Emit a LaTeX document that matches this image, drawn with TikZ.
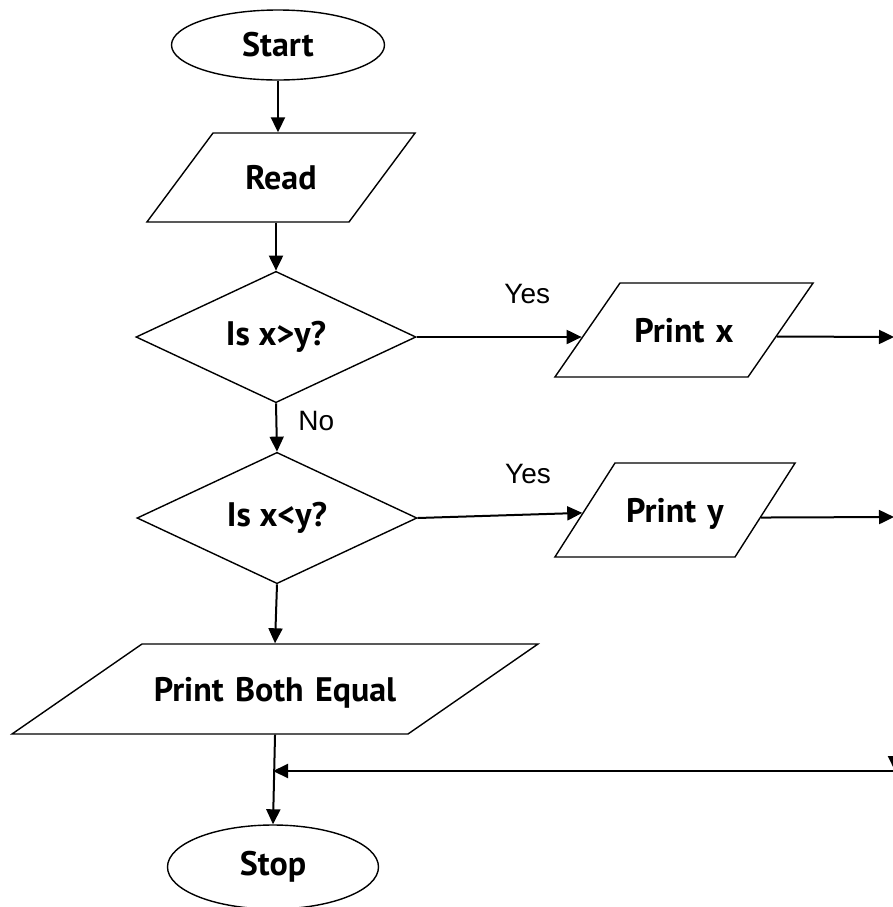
\documentclass[tikz,border=0pt]{standalone}
\usepackage{fontspec}
\setmainfont{Liberation Sans}
\newfontfamily\boxfont{PT Sans}
\usetikzlibrary{shapes.geometric,arrows.meta}

\begin{document}
\begin{tikzpicture}[x=0.5pt,y=-0.5pt,>={Triangle[length=7.5pt,width=7pt]},
    box font/.style={font=\boxfont\bfseries\fontsize{17pt}{20pt}\selectfont},
    term/.style={ellipse,draw,line width=0.7pt,inner sep=0pt,box font},
    io/.style={trapezium,draw,line width=0.7pt,inner xsep=0pt,text height=15pt,text depth=3pt,
               align=center,box font},
    decision/.style={diamond,draw,line width=0.7pt,inner sep=0pt,minimum width=140pt,minimum height=55pt,box font},
    flow/.style={->,line width=1pt},
    lbl/.style={inner sep=0pt,font=\fontsize{14pt}{17pt}\selectfont}]
  \useasboundingbox (0,0) rectangle (893,907);
  \node[term] (start) at (278,45) [minimum width=106.5pt,minimum height=35pt] {Start};
  \node[io] (read) at (281,177.5) [trapezium left angle=53.4,trapezium right angle=126.6,
        text width=68pt,inner ysep=13.25pt] {Read};
  \node[decision] (d1) at (276,337) {Is x>y?};
  \node[decision] (d2) at (277,518) {Is x<y?};
  \node[io] (pbe) at (275,689) [trapezium left angle=34.7,trapezium right angle=145.3,
        text width=133pt,inner ysep=13.5pt] {Print Both Equal};
  \node[term] (stop) at (273,867) [minimum width=105.5pt,minimum height=42pt] {Stop};
  \node[io] (px) at (684,330) [trapezium left angle=55.3,trapezium right angle=124.7,
        text width=64pt,inner ysep=14.5pt] {Print x};
  \node[io] (py) at (675,510) [trapezium left angle=57.4,trapezium right angle=122.6,
        text width=60pt,inner ysep=14.5pt] {Print y};
  % loose ends at the right edge
  \coordinate (xo) at (894,337);
  \coordinate (yo) at (894,517);
  \coordinate (rt) at (895,337);
  \coordinate (rb) at (895,771);
  \coordinate (rc) at (895,771);
  \path[flow]
    (start) edge (start |- read.north)
    (read.south -| d1.north) edge (d1.north)
    (d1.south) edge node[lbl,right=10.5pt,pos=0.37] {No} (d2.north)
    (d2.south) edge (pbe.north)
    (pbe.south) edge (stop.north)
    (d1.east) edge node[lbl,above=16pt,pos=0.67] {Yes} (d1.east -| px.184)
    (d2.east) edge node[lbl,above=15pt,pos=0.67] {Yes} (py)
    (px.-4) edge (xo)
    (py.-5) edge (yo)
    (rt) edge (rb)
    (rc) edge (rc -| stop.north);
\end{tikzpicture}
\end{document}
